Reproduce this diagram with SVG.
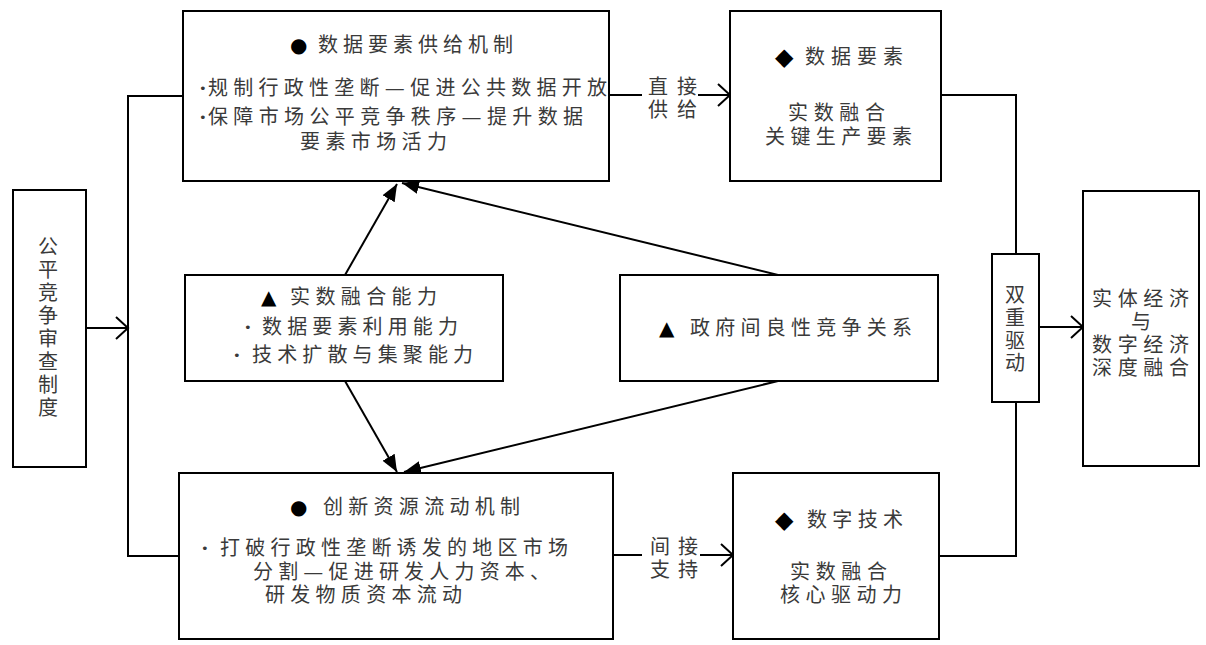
<svg xmlns="http://www.w3.org/2000/svg" width="1206" height="645" viewBox="0 0 1206 645">
<defs>
<style>
.box{fill:#fff;stroke:#000;stroke-width:2}
.ln{fill:none;stroke:#000;stroke-width:2}
.t{font-family:"Noto Sans CJK SC","Noto Sans",sans-serif;font-size:20px;fill:#3a3a3a}
.m{text-anchor:middle}
.sym{font-family:"DejaVu Sans",sans-serif;font-size:20px;fill:#000}
.dia{font-family:"DejaVu Sans",sans-serif;font-size:24px;fill:#000}
.bul{font-family:"DejaVu Sans",sans-serif;font-size:13px;fill:#3a3a3a}
.dash{font-family:"DejaVu Sans",sans-serif;font-size:20px}
</style>
<marker id="open" markerUnits="userSpaceOnUse" markerWidth="16" markerHeight="26" refX="13" refY="12" orient="auto">
<path d="M1,1 L13,12 L1,23" fill="none" stroke="#000" stroke-width="2"/>
</marker>
<marker id="fill" markerUnits="userSpaceOnUse" markerWidth="18" markerHeight="16" refX="17" refY="8" orient="auto">
<path d="M0,1 L17,8 L0,15 Z" fill="#000"/>
</marker>
</defs>
<rect width="1206" height="645" fill="#fff"/>

<g id="connectors">
<polyline class="ln" points="183,96 128,96 128,556 179,556"/>
<line class="ln" x1="86" y1="328" x2="128" y2="328" marker-end="url(#open)"/>
<line class="ln" x1="609" y1="95" x2="642" y2="95"/>
<line class="ln" x1="698" y1="95" x2="730" y2="95" marker-end="url(#open)"/>
<line class="ln" x1="613" y1="555" x2="642" y2="555"/>
<line class="ln" x1="700" y1="555" x2="733" y2="555" marker-end="url(#open)"/>
<polyline class="ln" points="941,95 1016,95 1016,254"/>
<polyline class="ln" points="939,556 1016,556 1016,402"/>
<line class="ln" x1="1039" y1="327" x2="1083" y2="327" marker-end="url(#open)"/>
<line class="ln" x1="345" y1="275" x2="397" y2="184" marker-end="url(#fill)"/>
<line class="ln" x1="778" y1="275" x2="402" y2="183" marker-end="url(#fill)"/>
<line class="ln" x1="345" y1="381" x2="397" y2="472" marker-end="url(#fill)"/>
<line class="ln" x1="778" y1="381" x2="404" y2="472" marker-end="url(#fill)"/>
<text class="t"><tspan x="648" y="94" textLength="49">直接</tspan><tspan x="648" y="117" textLength="49">供给</tspan></text>
<text class="t"><tspan x="650" y="554" textLength="48">间接</tspan><tspan x="650" y="577" textLength="48">支持</tspan></text>
</g>

<g id="fair-review">
<rect class="box" x="13" y="190" width="73" height="277"/>
<text class="t m"><tspan x="48" y="254">公</tspan><tspan x="48" y="277">平</tspan><tspan x="48" y="300">竞</tspan><tspan x="48" y="323">争</tspan><tspan x="48" y="346">审</tspan><tspan x="48" y="369">查</tspan><tspan x="48" y="392">制</tspan><tspan x="48" y="415">度</tspan></text>
</g>

<g id="data-supply">
<rect class="box" x="183" y="11" width="426" height="170"/>
<text class="sym" x="290" y="52">●</text>
<text class="t" x="318" y="52" textLength="195">数据要素供给机制</text>
<text class="bul" x="199" y="93">•</text>
<text class="t" x="208" y="95" textLength="399">规制行政性垄断<tspan class="dash">—</tspan>促进公共数据开放</text>
<text class="bul" x="199" y="122">•</text>
<text class="t" x="208" y="124" textLength="375">保障市场公平竞争秩序<tspan class="dash">—</tspan>提升数据</text>
<text class="t" x="300" y="149" textLength="147">要素市场活力</text>
</g>

<g id="data-element">
<rect class="box" x="730" y="11" width="211" height="170"/>
<text class="dia" x="775" y="65">◆</text>
<text class="t" x="805" y="64" textLength="98">数据要素</text>
<text class="t"><tspan x="788" y="120" textLength="97">实数融合</tspan><tspan x="765" y="144" textLength="147">关键生产要素</tspan></text>
</g>

<g id="capability">
<rect class="box" x="185" y="275" width="318" height="106"/>
<text class="sym" x="261" y="304">▲</text>
<text class="t" x="290" y="304" textLength="147">实数融合能力</text>
<text class="bul" x="244" y="332">•</text>
<text class="t" x="262" y="334" textLength="196">数据要素利用能力</text>
<text class="bul" x="233" y="360">•</text>
<text class="t" x="252" y="362" textLength="221">技术扩散与集聚能力</text>
</g>

<g id="gov-competition">
<rect class="box" x="620" y="275" width="318" height="106"/>
<text class="sym" x="659" y="335">▲</text>
<text class="t" x="690" y="335" textLength="222">政府间良性竞争关系</text>
</g>

<g id="dual-drive">
<rect class="box" x="992" y="254" width="47" height="148"/>
<text class="t m"><tspan x="1015" y="302">双</tspan><tspan x="1015" y="325">重</tspan><tspan x="1015" y="348">驱</tspan><tspan x="1015" y="370">动</tspan></text>
</g>

<g id="integration">
<rect class="box" x="1083" y="191" width="116" height="275"/>
<text class="t"><tspan x="1092" y="306" textLength="97">实体经济</tspan><tspan x="1131" y="329">与</tspan><tspan x="1092" y="352" textLength="97">数字经济</tspan><tspan x="1092" y="375" textLength="97">深度融合</tspan></text>
</g>

<g id="innovation-flow">
<rect class="box" x="179" y="473" width="434" height="166"/>
<text class="sym" x="290" y="514">●</text>
<text class="t" x="323" y="514" textLength="197">创新资源流动机制</text>
<text class="bul" x="201" y="553">•</text>
<text class="t" x="220" y="555" textLength="348">打破行政性垄断诱发的地区市场</text>
<text class="t" x="253" y="579" textLength="297">分割<tspan class="dash">—</tspan>促进研发人力资本、</text>
<text class="t" x="265" y="602" textLength="197">研发物质资本流动</text>
</g>

<g id="digital-tech">
<rect class="box" x="733" y="473" width="206" height="166"/>
<text class="dia" x="775" y="528">◆</text>
<text class="t" x="807" y="527" textLength="96">数字技术</text>
<text class="t"><tspan x="790" y="579" textLength="97">实数融合</tspan><tspan x="780" y="602" textLength="122">核心驱动力</tspan></text>
</g>
</svg>
